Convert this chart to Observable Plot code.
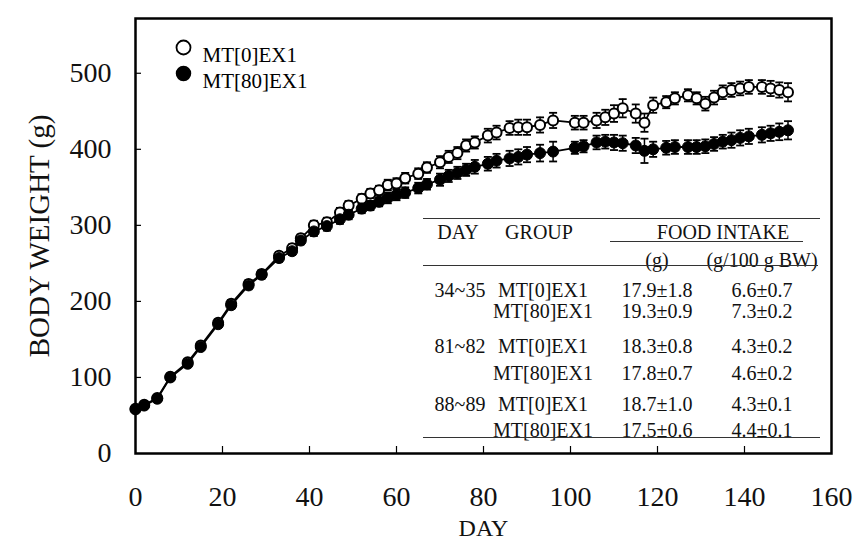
<!DOCTYPE html>
<html><head><meta charset="utf-8">
<script src="https://cdn.jsdelivr.net/npm/d3@7"></script>
<script src="https://cdn.jsdelivr.net/npm/@observablehq/plot@0.6"></script>
<style>
body{margin:0;background:#fff;}
#wrap{position:relative;width:857px;height:542px;font-family:"Liberation Serif",serif;color:#111;}
#wrap svg{position:absolute;left:0;top:0;}
.t{position:absolute;white-space:nowrap;transform:translate(-50%,-50%);font-size:20px;line-height:1;}
.ln{position:absolute;height:0;border-top:1px solid #333;}
</style></head><body><div id="wrap"></div>
<script>
// ---- data ----
const days = [0,2,5,8,12,15,19,22,26,29,
  33,36,38,41,44,47,49,52,54,56,
  58,60,62,65,67,70,72,74,76,78,
  81,83,86,88,90,93,96,101,103,106,
  108,110,112,115,117,119,122,124,127,129,
  131,133,135,137,139,141,144,146,148,150];
const weight0 = [59,64,73,101,120,142,172,197,223,236,
  260,270,283,300,304,317,326,335,342,346,
  353,355,362,368,376,383,390,395,405,409,
  418,422,428,429,429,432,438,435,435,438,
  442,447,454,447,435,458,462,467,471,467,
  460,468,475,478,480,482,482,480,478,475];
const se0 = [3,3,3,4,4,4,4,5,5,5,
  5,5,5,6,6,6,6,6,6,6,
  7,7,7,7,7,8,8,8,8,8,
  9,9,9,10,10,10,10,9,9,10,
  10,11,12,12,12,10,8,8,8,8,
  9,9,9,9,9,9,9,10,10,12];
const weight80 = [58,63,72,100,118,140,170,195,221,235,
  257,266,280,292,299,308,314,322,326,331,
  336,340,343,349,354,360,365,369,373,377,
  381,385,388,390,393,395,397,402,404,409,
  410,409,408,405,398,400,402,403,403,403,
  404,407,410,412,415,417,419,421,423,425];
const se80 = [3,3,3,4,4,4,4,5,5,5,
  5,5,5,6,6,6,6,6,6,6,
  7,7,7,7,7,8,8,8,8,9,
  9,9,10,10,10,11,13,8,8,9,
  9,10,10,10,16,10,9,9,9,9,
  9,9,9,10,10,10,10,10,11,12];
const seriesNames = ["MT[0]EX1", "MT[80]EX1"];
const xTicks = [0,20,40,60,80,100,120,140,160];
const yTicks = [0,100,200,300,400,500];

// table
const tableDays = ["34~35","81~82","88~89"];
const intakeG = [["17.9±1.8","19.3±0.9"],["18.3±0.8","17.8±0.7"],["18.7±1.0","17.5±0.6"]];
const intakeBW = [["6.6±0.7","7.3±0.2"],["4.3±0.2","4.6±0.2"],["4.3±0.1","4.4±0.1"]];

// ---- build ----
const rows0 = days.map((d,i)=>({day:d, w:weight0[i], se:se0[i], group:seriesNames[0]}));
const rows80 = days.map((d,i)=>({day:d, w:weight80[i], se:se80[i], group:seriesNames[1]}));
const all = rows0.concat(rows80);

const cap = {draw(ctx, size){ const r = Math.sqrt(size/Math.PI); ctx.moveTo(-r,0); ctx.lineTo(r,0); }};

const font = "Liberation Serif";
const chart = Plot.plot({
  width: 857, height: 542,
  marginLeft: 135, marginRight: 26, marginTop: 18, marginBottom: 89,
  style: {fontFamily: font, color: "#111", background: "white"},
  x: {domain: [0,160]},
  y: {domain: [0,572]},
  marks: [
    Plot.axisY({ticks: yTicks, tickSize: 0, tickPadding: 24, fontSize: 28, label: null}),
    Plot.axisY({ticks: yTicks.filter(v=>v>0), tickSize: -6, fill: "none", label: null, stroke: "black", strokeWidth: 1.2}),
    Plot.axisY({ticks: [], tickSize: 0, label: "BODY WEIGHT (g)", labelArrow: "none", labelAnchor: "center", labelOffset: 107, fontSize: 29}),
    Plot.axisX({ticks: xTicks, tickSize: 0, tickPadding: 33, fontSize: 28, label: null}),
    Plot.axisX({ticks: xTicks.filter(v=>v>0 && v<160), tickSize: -7, fill: "none", label: null, stroke: "black", strokeWidth: 1.2}),
    Plot.axisX({ticks: [], tickSize: 0, label: "DAY", labelArrow: "none", labelAnchor: "center", labelOffset: 82, fontSize: 24}),
    Plot.frame({stroke: "black", strokeWidth: 2.5}),
    Plot.line(all, {x: "day", y: "w", z: "group", stroke: "black", strokeWidth: 1.8}),
    Plot.ruleX(all, {x: "day", y1: d=>d.w-d.se, y2: d=>d.w+d.se, stroke: "black", strokeWidth: 1.5}),
    Plot.dot(all, {x: "day", y: d=>d.w+d.se, symbol: cap, r: 4, stroke: "black", strokeWidth: 1.8}),
    Plot.dot(all, {x: "day", y: d=>d.w-d.se, symbol: cap, r: 4, stroke: "black", strokeWidth: 1.8}),
    Plot.dot(rows0, {x: "day", y: "w", r: 5, fill: "white", stroke: "black", strokeWidth: 2}),
    Plot.dot(rows80, {x: "day", y: "w", r: 5.5, fill: "black", stroke: "black", strokeWidth: 1}),
    // legend
    Plot.dot([seriesNames[0]], {frameAnchor: "top-left", dx: 48, dy: 29, r: 7, fill: "white", stroke: "black", strokeWidth: 1.8}),
    Plot.dot([seriesNames[1]], {frameAnchor: "top-left", dx: 48, dy: 55, r: 7, fill: "black", stroke: "black"}),
    Plot.text([seriesNames[0]], {text: d=>d, frameAnchor: "top-left", dx: 67, dy: 29, textAnchor: "start", fontSize: 21, fill: "black"}),
    Plot.text([seriesNames[1]], {text: d=>d, frameAnchor: "top-left", dx: 67, dy: 55, textAnchor: "start", fontSize: 21, fill: "black"})
  ]
});
const wrap = document.getElementById("wrap");
wrap.appendChild(chart);

// table overlay
function txt(s, x, y){ const e = document.createElement("div"); e.className = "t"; e.textContent = s; e.style.left = x+"px"; e.style.top = y+"px"; wrap.appendChild(e); }
function line(x1, x2, y){ const e = document.createElement("div"); e.className = "ln"; e.style.left = x1+"px"; e.style.width = (x2-x1)+"px"; e.style.top = y+"px"; wrap.appendChild(e); }
line(423, 820, 218);
txt("DAY", 458, 232); txt("GROUP", 539, 232); txt("FOOD INTAKE", 723, 232);
line(610, 803, 241);
txt("(g)", 657, 260); txt("(g/100 g BW)", 762, 260);
line(423, 818, 265);
const rowY = [[290,311],[346,373],[404,430]];
tableDays.forEach((d,i)=>{
  txt(d, 460, rowY[i][0]);
  seriesNames.forEach((g,j)=>{
    txt(g, 543, rowY[i][j]);
    txt(intakeG[i][j], 657, rowY[i][j]);
    txt(intakeBW[i][j], 762, rowY[i][j]);
  });
});
line(423, 820, 437);
</script></body></html>
